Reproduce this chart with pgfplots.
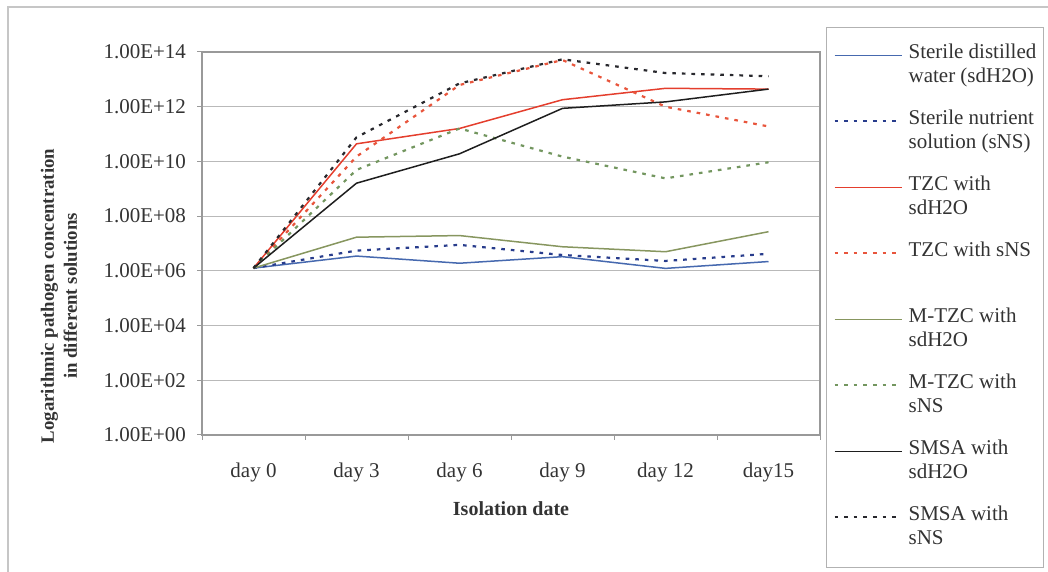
\documentclass[border=0pt]{standalone}
\usepackage{pgfplots}
\pgfplotsset{compat=1.18}
\usepackage{fontspec}
\setmainfont{Liberation Serif}

\definecolor{cSdw}{RGB}{70,105,175}
\definecolor{cSns}{RGB}{40,60,140}
\definecolor{cTzc}{RGB}{228,62,45}
\definecolor{cTzcn}{RGB}{232,85,60}
\definecolor{cMtz}{RGB}{135,150,95}
\definecolor{cMtzn}{RGB}{115,150,95}
\definecolor{cSmsa}{RGB}{30,30,30}
\definecolor{cSmsan}{RGB}{40,40,45}

\newcommand{\legtxt}[1]{\color{black!80}\raisebox{-6.5pt}{\begin{tabular}[t]{@{}l@{}}#1\end{tabular}}}

\begin{document}
\begin{tikzpicture}
% outer chart frame (left and top edges visible)
\draw[gray!45, line width=0.6pt] (4pt,-20pt) -- (4pt,282.5pt) -- (560pt,282.5pt);

\begin{axis}[
  at={(101pt,68.5pt)}, anchor=south west,
  scale only axis, width=309pt, height=191.5pt,
  xmin=-0.5, xmax=5.5,
  ymode=log, ymin=1, ymax=1e14,
  ytick={1,1e2,1e4,1e6,1e8,1e10,1e12,1e14},
  yticklabels={1.00E+00,1.00E+02,1.00E+04,1.00E+06,1.00E+08,1.00E+10,1.00E+12,1.00E+14},
  yminorticks=false,
  yticklabel style={xshift=-2pt},
  xtick={-0.5,0.5,1.5,2.5,3.5,4.5,5.5}, xticklabels={},
  extra x ticks={0,1,2,3,4,5},
  extra x tick labels={day 0,day 3,day 6,day 9,day 12,day15},
  extra x tick style={major tick length=0pt, grid=none,
    xticklabel style={yshift=-10.5pt}},
  tick align=outside, tick pos=left,
  major tick length=2.5pt,
  tick style={gray!80, line width=0.5pt},
  ymajorgrids, grid style={gray!55, line width=0.5pt},
  axis line style={gray!80, line width=0.6pt},
  tick label style={font=\fontsize{10.5}{12}\selectfont, text=black!80},
  xlabel={Isolation date},
  xlabel style={font=\bfseries\fontsize{10}{12}\selectfont, text=black!80,
    at={(axis description cs:0.5,0)}, anchor=center, yshift=-37pt},
  ylabel={Logarithmic pathogen concentration\\in different solutions},
  ylabel style={font=\bfseries\fontsize{9.4}{11.5}\selectfont, text=black!80, align=center,
    at={(axis description cs:-0.2314,0.363)}, anchor=center},
  % \path keeps the plot's own draw colour, width and dash pattern
  legend image code/.code={\path (0pt,-5pt) -- (33.5pt,-5pt);},
  legend style={at={(1,1)}, anchor=north west, xshift=3pt, yshift=12.5pt,
    draw=gray!60, inner xsep=3.5pt, inner ysep=7pt,
    row sep=8pt, column sep=3pt,
    cells={anchor=base west},
    nodes={inner sep=0pt, text height=2pt, text depth=23pt,
      font=\fontsize{10.5}{12}\selectfont}},
]
\addplot[color=cSdw, line width=0.75pt] coordinates {(0,1.26e6) (1,3.47e6) (2,1.9e6) (3,3.3e6) (4,1.23e6) (5,2.19e6)};
\addlegendentry{\legtxt{Sterile distilled\\water (sdH2O)}}
\addplot[color=cSns, line width=1.1pt, dash pattern=on 1.8pt off 3pt] coordinates {(0,1.26e6) (1,5.5e6) (2,8.9e6) (3,3.8e6) (4,2.3e6) (5,4.2e6)};
\addlegendentry{\legtxt{Sterile nutrient\\solution (sNS)}}
\addplot[color=cTzc, line width=0.75pt] coordinates {(0,1.26e6) (1,4.4e10) (2,1.6e11) (3,1.8e12) (4,4.7e12) (5,4.4e12)};
\addlegendentry{\legtxt{TZC with\\sdH2O}}
\addplot[color=cTzcn, line width=1.1pt, dash pattern=on 1.8pt off 3pt] coordinates {(0,1.26e6) (1,1.5e10) (2,6.2e12) (3,5.1e13) (4,1.0e12) (5,1.9e11)};
\addlegendentry{\legtxt{TZC with sNS}}
\addplot[color=cMtz, line width=0.75pt] coordinates {(0,1.26e6) (1,1.7e7) (2,1.95e7) (3,7.6e6) (4,5.0e6) (5,2.7e7)};
\addlegendentry{\legtxt{M-TZC with\\sdH2O}}
\addplot[color=cMtzn, line width=1.1pt, dash pattern=on 1.8pt off 3pt] coordinates {(0,1.26e6) (1,4.9e9) (2,1.6e11) (3,1.5e10) (4,2.4e9) (5,9.3e9)};
\addlegendentry{\legtxt{M-TZC with\\sNS}}
\addplot[color=cSmsa, line width=0.75pt] coordinates {(0,1.26e6) (1,1.6e9) (2,1.9e10) (3,8.7e11) (4,1.5e12) (5,4.4e12)};
\addlegendentry{\legtxt{SMSA with\\sdH2O}}
\addplot[color=cSmsan, line width=1.1pt, dash pattern=on 1.8pt off 3pt] coordinates {(0,1.26e6) (1,7.6e10) (2,7.1e12) (3,5.4e13) (4,1.7e13) (5,1.3e13)};
\addlegendentry{\legtxt{SMSA with\\sNS}}
\end{axis}
\pgfresetboundingbox
\useasboundingbox (0,0) rectangle (524pt,286pt);
\end{tikzpicture}
\end{document}
